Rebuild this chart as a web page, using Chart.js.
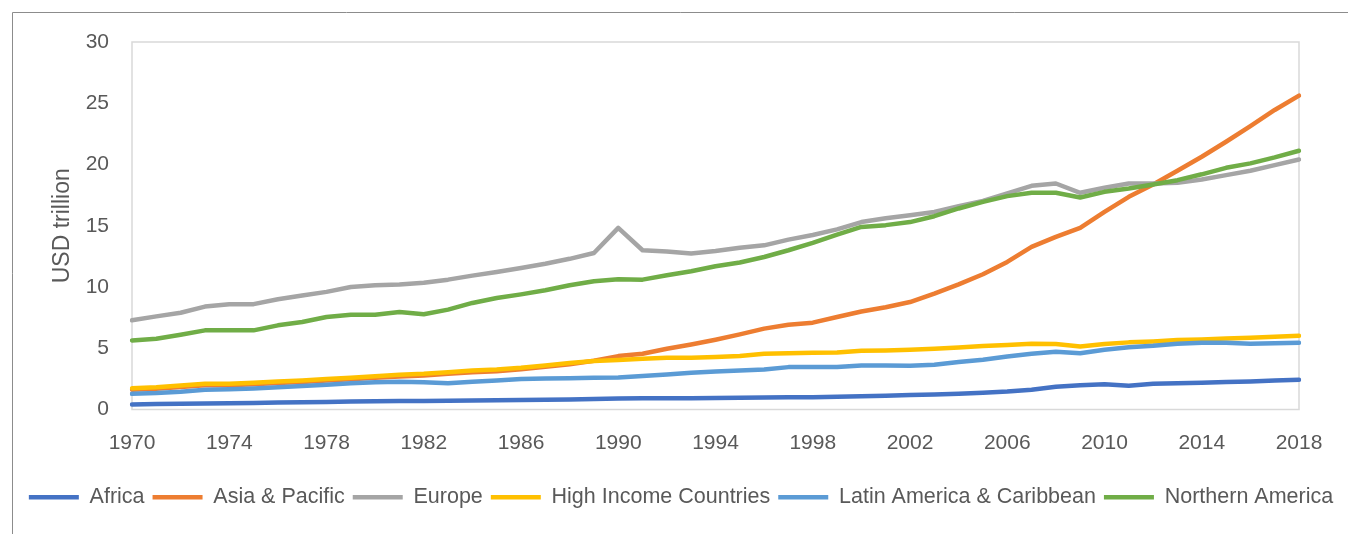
<!DOCTYPE html>
<html>
<head>
<meta charset="utf-8">
<script src="https://cdn.jsdelivr.net/npm/chart.js@4"></script>
<style>
  html, body { margin: 0; padding: 0; background: #fff; }
  #wrap { width: 1348px; height: 534px; }
</style>
</head>
<body>
<div id="wrap"><canvas id="chart"></canvas></div>
<script>
const years = [];
for (let y = 1970; y <= 2018; y++) years.push(String(y));
const xTickYears = ["1970", "1974", "1978", "1982", "1986", "1990", "1994", "1998", "2002", "2006", "2010", "2014", "2018"];

const africa = [0.41, 0.44, 0.46, 0.49, 0.52, 0.54, 0.57, 0.60, 0.62, 0.65, 0.68, 0.69, 0.70, 0.72, 0.74, 0.76, 0.78, 0.80, 0.82, 0.86,
  0.90, 0.91, 0.91, 0.92, 0.93, 0.95, 0.97, 0.99, 1.01, 1.04, 1.08, 1.12, 1.18, 1.22, 1.28, 1.36, 1.46, 1.62, 1.86, 1.98,
  2.06, 1.94, 2.10, 2.14, 2.19, 2.24, 2.29, 2.36, 2.43];
const asiaPacific = [1.62, 1.70, 1.84, 1.98, 1.98, 2.06, 2.17, 2.25, 2.36, 2.47, 2.60, 2.70, 2.78, 2.92, 3.05, 3.13, 3.28, 3.48, 3.70, 3.98,
  4.36, 4.55, 4.96, 5.31, 5.70, 6.13, 6.60, 6.92, 7.09, 7.55, 8.00, 8.35, 8.77, 9.46, 10.22, 11.04, 12.05, 13.27, 14.09, 14.83,
  16.13, 17.36, 18.37, 19.49, 20.63, 21.86, 23.14, 24.45, 25.62];
const europe = [7.28, 7.60, 7.90, 8.40, 8.60, 8.60, 9.00, 9.30, 9.60, 10.00, 10.15, 10.20, 10.35, 10.60, 10.93, 11.23, 11.55, 11.90, 12.30, 12.78,
  14.83, 13.00, 12.90, 12.73, 12.94, 13.20, 13.40, 13.87, 14.25, 14.70, 15.30, 15.62, 15.86, 16.13, 16.60, 17.03, 17.64, 18.26, 18.45, 17.69,
  18.10, 18.45, 18.45, 18.50, 18.78, 19.13, 19.49, 19.95, 20.41];
const highIncome = [1.74, 1.82, 1.96, 2.10, 2.10, 2.18, 2.29, 2.37, 2.48, 2.59, 2.72, 2.83, 2.91, 3.05, 3.19, 3.27, 3.41, 3.60, 3.79, 3.95,
  4.05, 4.14, 4.22, 4.22, 4.28, 4.36, 4.55, 4.60, 4.63, 4.66, 4.80, 4.82, 4.88, 4.96, 5.07, 5.18, 5.26, 5.37, 5.34, 5.15,
  5.34, 5.48, 5.56, 5.67, 5.72, 5.80, 5.86, 5.94, 6.02];
const latinAmerica = [1.28, 1.34, 1.45, 1.61, 1.66, 1.72, 1.82, 1.91, 2.02, 2.15, 2.23, 2.26, 2.23, 2.15, 2.26, 2.37, 2.48, 2.53, 2.56, 2.59,
  2.62, 2.73, 2.86, 3.00, 3.10, 3.19, 3.27, 3.46, 3.46, 3.46, 3.60, 3.60, 3.58, 3.65, 3.87, 4.06, 4.33, 4.55, 4.72, 4.60,
  4.88, 5.09, 5.20, 5.37, 5.45, 5.45, 5.37, 5.40, 5.45];
const northernAmerica = [5.64, 5.78, 6.10, 6.46, 6.46, 6.46, 6.87, 7.14, 7.55, 7.74, 7.74, 7.96, 7.77, 8.15, 8.70, 9.10, 9.40, 9.73, 10.14, 10.47,
  10.63, 10.60, 10.96, 11.28, 11.70, 12.00, 12.45, 13.00, 13.60, 14.28, 14.90, 15.05, 15.30, 15.78, 16.41, 16.95, 17.42, 17.69, 17.69, 17.31,
  17.77, 18.04, 18.37, 18.72, 19.20, 19.73, 20.09, 20.58, 21.12];

const seriesNames = ["Africa", "Asia & Pacific", "Europe", "High Income Countries", "Latin America & Caribbean", "Northern America"];
const seriesData = [africa, asiaPacific, europe, highIncome, latinAmerica, northernAmerica];
const seriesColors = ["#4472C4", "#ED7D31", "#A5A5A5", "#FFC000", "#5B9BD5", "#70AD47"];

const textColor = "#595959";
const fontFamily = "'Liberation Sans', Arial, sans-serif";

// frame round the whole chart and the light box round the plot area
const framePlugin = {
  id: "frame",
  beforeDraw(chart) {
    const c = chart.ctx;
    c.save();
    c.fillStyle = "#fff";
    c.fillRect(0, 0, chart.width, chart.height);
    c.strokeStyle = "#8c8c8c";
    c.lineWidth = 1;
    c.beginPath();
    c.moveTo(12.5, chart.height);
    c.lineTo(12.5, 12.5);
    c.lineTo(chart.width, 12.5);
    c.stroke();
    c.restore();
  },
  beforeDatasetsDraw(chart) {
    const a = chart.chartArea;
    const c = chart.ctx;
    c.save();
    c.strokeStyle = "#d9d9d9";
    c.lineWidth = 1.5;
    c.strokeRect(a.left, a.top, a.right - a.left, a.bottom - a.top);
    c.restore();
  }
};

const datasets = seriesNames.map((name, i) => ({
  label: name,
  data: seriesData[i],
  borderColor: seriesColors[i],
  backgroundColor: seriesColors[i],
  borderWidth: 4.5,
  borderCapStyle: "round",
  borderJoinStyle: "round",
  pointRadius: 0,
  pointHoverRadius: 0,
  pointStyle: "line",
  tension: 0,
  order: seriesNames.length - i
}));

new Chart(document.getElementById("chart"), {
  type: "line",
  data: { labels: years, datasets: datasets },
  plugins: [framePlugin],
  options: {
    responsive: true,
    maintainAspectRatio: false,
    animation: false,
    layout: { padding: { top: 42, left: 14, right: 0, bottom: 16 } },
    plugins: {
      tooltip: { enabled: false },
      legend: {
        position: "bottom",
        labels: {
          usePointStyle: true,
          pointStyleWidth: 50,
          padding: 8,
          color: textColor,
          font: { family: fontFamily, size: 21.5 },
          sort: (a, b) => a.datasetIndex - b.datasetIndex
        }
      }
    },
    scales: {
      x: {
        grid: { display: false, drawTicks: false },
        border: { display: false },
        ticks: {
          autoSkip: false,
          maxRotation: 0,
          padding: 21,
          color: textColor,
          font: { family: fontFamily, size: 21 },
          callback: function (value) {
            const label = this.getLabelForValue(value);
            return xTickYears.includes(label) ? label : "";
          }
        },
        afterFit: (scale) => { scale.height = 69; }
      },
      y: {
        min: 0,
        max: 30,
        grid: { display: false, drawTicks: false },
        border: { display: false },
        ticks: {
          stepSize: 5,
          padding: 23,
          color: textColor,
          font: { family: fontFamily, size: 21 }
        },
        title: {
          display: true,
          text: "USD trillion",
          color: textColor,
          font: { family: fontFamily, size: 23 },
          padding: { top: 35, bottom: 0 }
        },
        afterFit: (scale) => { scale.width = 118; }
      },
      yRight: {
        position: "right",
        display: true,
        grid: { display: false, drawTicks: false },
        border: { display: false },
        ticks: { display: false },
        afterFit: (scale) => { scale.width = 49; }
      }
    }
  }
});
</script>
</body>
</html>
